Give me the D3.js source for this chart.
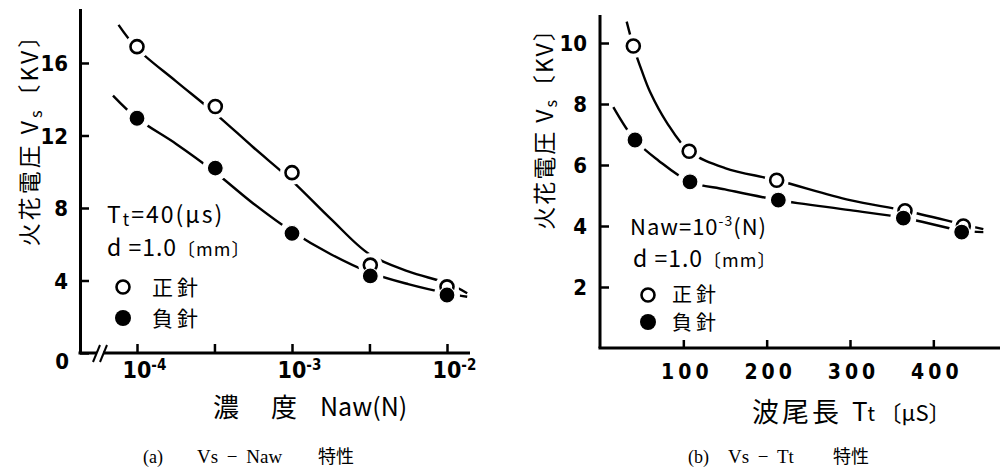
<!DOCTYPE html>
<meta charset="utf-8">
<script src="https://d3js.org/d3.v7.min.js"></script>
<style>
  body { margin: 0; background: #fff; }
  .hand { font-family: "Noto Sans CJK JP", "DejaVu Sans", sans-serif; fill: #000; }
  .num { font-family: "Liberation Sans Narrow", "DejaVu Sans Condensed", sans-serif; font-weight: bold; fill: #000; }
  .cap { font-family: "Liberation Serif", "Noto Sans CJK JP", serif; fill: #000; }
</style>
<div id="viz"></div>
<script>
// ---- (a) Vs - Naw ----
var nawTicks = [1e-4, 3.16e-4, 1e-3, 3.16e-3, 1e-2];
var nawTickExp = ["-4", "", "-3", "", "-2"];
var vsTicksA = [0, 4, 8, 12, 16];
var nawPts = [1e-4, 3.2e-4, 1e-3, 3.2e-3, 1e-2];
var vsPosA = [16.9, 13.6, 9.95, 4.85, 3.65];
var vsNegA = [12.95, 10.2, 6.6, 4.25, 3.2];
// hand drawn fit curves
var fitNawPos = [7.6e-5, 1e-4, 1.78e-4, 3.16e-4, 5.62e-4, 1e-3, 1.78e-3, 3.16e-3, 5.62e-3, 1e-2, 1.35e-2];
var fitVsPos = [18.1, 16.8, 15.0, 13.25, 11.35, 9.5, 7.4, 5.45, 4.5, 3.85, 3.3];
var fitNawNeg = [7.0e-5, 1e-4, 1.78e-4, 3.16e-4, 5.62e-4, 1e-3, 1.78e-3, 3.16e-3, 5.62e-3, 1e-2, 1.35e-2];
var fitVsNeg = [14.2, 12.95, 11.55, 10.0, 8.25, 6.7, 5.45, 4.45, 3.8, 3.3, 3.1];

// ---- (b) Vs - Tt ----
var ttTicks = [100, 200, 300, 400];
var vsTicksB = [2, 4, 6, 8, 10];
var ttPosPts = [40, 107, 212, 366, 436];
var vsPosB = [9.9, 6.45, 5.5, 4.5, 4.0];
var ttNegPts = [42, 108, 214, 364, 434];
var vsNegB = [6.82, 5.45, 4.85, 4.26, 3.8];
var fitTtPos = [32, 40, 50, 60, 80, 107, 150, 212, 300, 366, 436, 460];
var fitVsPosB = [10.7, 9.9, 9.1, 8.4, 7.4, 6.45, 5.9, 5.5, 4.85, 4.5, 4.05, 3.9];
var fitTtNeg = [16, 42, 70, 108, 150, 214, 300, 364, 434, 460];
var fitVsNegB = [7.9, 6.82, 6.15, 5.45, 5.2, 4.85, 4.52, 4.27, 3.85, 3.8];

var svg = d3.select("#viz").append("svg")
  .attr("width", 1005).attr("height", 470);

var line = d3.line().curve(d3.curveCatmullRom.alpha(0.5));

function drawCurves(g, x, y, curves) {
  curves.forEach(function (c) {
    var pts = c[0].map(function (v, i) { return [x(v), y(c[1][i])]; });
    g.append("path").attr("d", line(pts))
      .attr("fill", "none").attr("stroke", "#000").attr("stroke-width", 2.4);
  });
}

function drawMarkers(g, x, y, posX, posY, negX, negY) {
  var all = posX.map(function (v, i) { return [x(v), y(posY[i]), 12]; })
    .concat(negX.map(function (v, i) { return [x(v), y(negY[i]), 13]; }));
  // white halo so the curve breaks around each point
  g.selectAll(".halo").data(all).join("circle")
    .attr("cx", d => d[0]).attr("cy", d => d[1]).attr("r", d => d[2])
    .attr("fill", "#fff");
  g.selectAll(".open").data(posX).join("circle")
    .attr("cx", d => x(d)).attr("cy", (d, i) => y(posY[i])).attr("r", 6.5)
    .attr("fill", "#fff").attr("stroke", "#000").attr("stroke-width", 2.6);
  g.selectAll(".filled").data(negX).join("circle")
    .attr("cx", d => x(d)).attr("cy", (d, i) => y(negY[i])).attr("r", 8)
    .attr("fill", "#000").attr("stroke", "#fff").attr("stroke-width", 1.2);
}

function legendMarks(g, cx, cy1, cy2) {
  g.append("circle").attr("cx", cx).attr("cy", cy1).attr("r", 6.5)
    .attr("fill", "#fff").attr("stroke", "#000").attr("stroke-width", 2.6);
  g.append("circle").attr("cx", cx).attr("cy", cy2).attr("r", 8).attr("fill", "#000");
}

function styleAxis(g) {
  g.selectAll("path.domain").attr("stroke", "#000").attr("stroke-width", 3);
  g.selectAll(".tick line").attr("stroke", "#000").attr("stroke-width", 2.5);
}

function caption(g, x0, tag, xs, formula, xj) {
  g.append("text").attr("class", "cap").attr("font-size", 18).attr("x", x0).attr("y", 463).text(tag);
  g.append("text").attr("class", "cap").attr("font-size", 19).attr("x", xs).attr("y", 463)
    .attr("word-spacing", 4).text(formula);
  g.append("text").attr("class", "cap").attr("font-size", 18).attr("x", xj).attr("y", 463)
    .attr("font-family", "Noto Sans CJK JP").text("特性");
}

// ================= chart (a) =================
var ga = svg.append("g");
var xA = d3.scaleLog().domain([1e-4, 1e-2]).range([137, 447]);
var yA = d3.scaleLinear().domain([0, 19]).range([353, 8.6]);

var yAxisA = ga.append("g").attr("transform", "translate(80,0)")
  .call(d3.axisLeft(yA).tickValues(vsTicksA).tickSize(-9).tickSizeOuter(0).tickPadding(12));
styleAxis(yAxisA);
yAxisA.selectAll("text").attr("class", "num").attr("font-size", 22).attr("dy", "0.36em");
yAxisA.selectAll(".tick").filter(d => d === 0).select("text").attr("dy", "0.7em").attr("x", -11);

var xAxisA = ga.append("g").attr("transform", "translate(0,353)")
  .call(d3.axisBottom(xA).tickValues(nawTicks).tickSize(-9).tickSizeOuter(0).tickPadding(8));
xAxisA.select("path.domain").remove();
styleAxis(xAxisA);
xAxisA.selectAll(".tick text").each(function (d, i) {
  var t = d3.select(this).text("").attr("class", "num").attr("font-size", 23)
    .attr("text-anchor", "start").attr("x", -15).attr("y", 9).attr("dy", "0.71em");
  if (nawTickExp[i] === "") return;
  t.append("tspan").text("10");
  t.append("tspan").attr("dy", -8).attr("font-size", 15).text(nawTickExp[i]);
});
ga.append("line").attr("x1", 78.5).attr("x2", 470).attr("y1", 353).attr("y2", 353)
  .attr("stroke", "#000").attr("stroke-width", 3);
// axis break
ga.append("rect").attr("x", 97).attr("y", 348).attr("width", 6).attr("height", 10).attr("fill", "#fff");
[96, 103].forEach(function (bx) {
  ga.append("line").attr("x1", bx - 3).attr("y1", 362).attr("x2", bx + 4).attr("y2", 345)
    .attr("stroke", "#000").attr("stroke-width", 2);
});

drawCurves(ga, xA, yA, [[fitNawPos, fitVsPos], [fitNawNeg, fitVsNeg]]);
drawMarkers(ga, xA, yA, nawPts, vsPosA, nawPts, vsNegA);

ga.append("text").attr("class", "hand").attr("font-size", 23)
  .attr("letter-spacing", 3)
  .attr("transform", "translate(38,134) rotate(-90)").attr("text-anchor", "middle")
  .call(function (t) {
    t.append("tspan").text("火花電圧 V");
    t.append("tspan").attr("font-size", 16).attr("dy", 4).text("s");
    t.append("tspan").attr("dy", -4).text("〔KV〕");
  });

ga.append("text").attr("class", "hand").attr("font-size", 26).attr("x", 213).attr("y", 417).text("濃");
ga.append("text").attr("class", "hand").attr("font-size", 26).attr("x", 271).attr("y", 417).text("度");
ga.append("text").attr("class", "hand").attr("font-size", 25).attr("x", 320).attr("y", 416).text("Naw(N)");

ga.append("text").attr("class", "hand").attr("font-size", 23).attr("x", 107).attr("y", 223)
  .attr("letter-spacing", 2)
  .call(function (t) {
    t.append("tspan").text("T");
    t.append("tspan").attr("font-size", 17).attr("dy", 3).text("t");
    t.append("tspan").attr("dy", -3).text("=40(μs)");
  });
ga.append("text").attr("class", "hand").attr("font-size", 23).attr("x", 107).attr("y", 256)
  .attr("letter-spacing", 1)
  .text("d =1.0").append("tspan").attr("font-size", 18).text("〔mm〕");
legendMarks(ga, 123, 287, 318);
ga.append("text").attr("class", "hand").attr("font-size", 21).attr("letter-spacing", 4)
  .attr("x", 152).attr("y", 295).text("正針");
ga.append("text").attr("class", "hand").attr("font-size", 21).attr("letter-spacing", 4)
  .attr("x", 152).attr("y", 326).text("負針");

caption(ga, 143, "(a)", 197, "Vs − Naw", 318);

// ================= chart (b) =================
var gb = svg.append("g");
var xB = d3.scaleLinear().domain([0, 480]).range([600, 1000]);
var yB = d3.scaleLinear().domain([0, 11]).range([348, 12.5]);

var yAxisB = gb.append("g").attr("transform", "translate(600,0)")
  .call(d3.axisLeft(yB).tickValues(vsTicksB).tickSize(-9).tickSizeOuter(0).tickPadding(13));
styleAxis(yAxisB);
yAxisB.selectAll("text").attr("class", "num").attr("font-size", 22).attr("dy", "0.36em");
yAxisB.select("path.domain").attr("d", "M0,15V348");

var xAxisB = gb.append("g").attr("transform", "translate(0,348)")
  .call(d3.axisBottom(xB).tickValues(ttTicks).tickSize(-8).tickSizeOuter(0).tickPadding(16));
xAxisB.select("path.domain").remove();
styleAxis(xAxisB);
xAxisB.selectAll("text").attr("class", "num").attr("font-size", 21).attr("letter-spacing", 4).attr("dx", 3);
gb.append("line").attr("x1", 598.5).attr("x2", 1000).attr("y1", 348).attr("y2", 348)
  .attr("stroke", "#000").attr("stroke-width", 3);

drawCurves(gb, xB, yB, [[fitTtPos, fitVsPosB], [fitTtNeg, fitVsNegB]]);
drawMarkers(gb, xB, yB, ttPosPts, vsPosB, ttNegPts, vsNegB);

gb.append("text").attr("class", "hand").attr("font-size", 23)
  .attr("letter-spacing", 2)
  .attr("transform", "translate(553,123) rotate(-90)").attr("text-anchor", "middle")
  .call(function (t) {
    t.append("tspan").text("火花電圧 V");
    t.append("tspan").attr("font-size", 16).attr("dy", 4).text("s");
    t.append("tspan").attr("dy", -4).text("〔KV〕");
  });

gb.append("text").attr("class", "hand").attr("font-size", 27).attr("x", 752).attr("y", 422)
  .attr("letter-spacing", 3).text("波尾長");
gb.append("text").attr("class", "hand").attr("font-size", 26).attr("x", 852).attr("y", 421)
  .call(function (t) {
    t.append("tspan").text("T");
    t.append("tspan").attr("font-size", 20).text("t ");
    t.append("tspan").attr("font-size", 22).text("〔μS〕");
  });

gb.append("text").attr("class", "hand").attr("font-size", 22).attr("x", 630).attr("y", 235)
  .attr("letter-spacing", 1)
  .call(function (t) {
    t.append("tspan").text("Naw=10");
    t.append("tspan").attr("font-size", 14).attr("dy", -9).text("-3");
    t.append("tspan").attr("dy", 9).text("(N)");
  });
gb.append("text").attr("class", "hand").attr("font-size", 23).attr("x", 633).attr("y", 267)
  .attr("letter-spacing", 1)
  .text("d =1.0").append("tspan").attr("font-size", 18).text("〔mm〕");
legendMarks(gb, 648, 295, 322);
gb.append("text").attr("class", "hand").attr("font-size", 20).attr("letter-spacing", 4)
  .attr("x", 672).attr("y", 302).text("正針");
gb.append("text").attr("class", "hand").attr("font-size", 20).attr("letter-spacing", 4)
  .attr("x", 672).attr("y", 330).text("負針");

caption(gb, 688, "(b)", 728, "Vs − Tt", 833);
</script>
